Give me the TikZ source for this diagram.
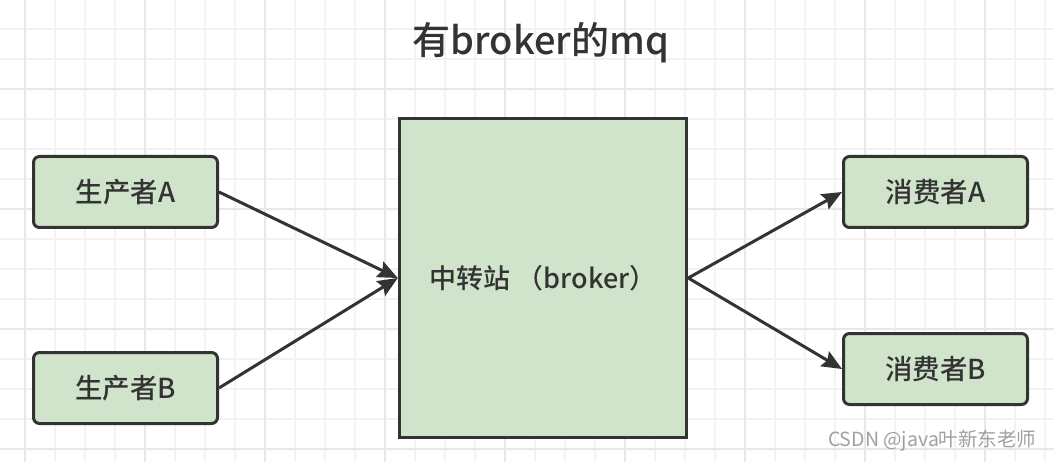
\documentclass[tikz,border=0pt]{standalone}
\usepackage{fontspec}
\setmainfont{Noto Sans CJK SC}
\newfontfamily\medfont{Noto Sans CJK SC Medium}
\usetikzlibrary{arrows.meta}
\definecolor{boxgreen}{RGB}{207,228,203}
\definecolor{edgegray}{RGB}{51,51,51}
\definecolor{gridminor}{RGB}{243,243,243}
\definecolor{gridmajor}{RGB}{232,232,232}
\definecolor{markgray}{RGB}{160,160,160}

\begin{document}
\begin{tikzpicture}[x=1pt, y=-1pt,
    role/.style={draw=edgegray, fill=boxgreen, line width=3pt, rounded corners=6pt,
      minimum width=184pt, minimum height=71pt, text=edgegray,
      font=\medfont\fontsize{27.5}{30}\selectfont},
    hub/.style={draw=edgegray, fill=boxgreen, line width=3.5pt,
      minimum width=287pt, minimum height=319pt, text=edgegray,
      font=\medfont\fontsize{27}{30}\selectfont},
    link/.style={draw=edgegray, line width=3pt,
      -{Stealth[length=20pt, width=17pt, inset=3pt]}}]
        \useasboundingbox (0,0) rectangle (1054,462);
        \fill[white] (0,0) rectangle (1054,462);
        % background grid
        \foreach \gx in {25,55,...,1045}
          \draw[gridminor, line width=1.5pt] (\gx,0) -- (\gx,462);
        \foreach \gy in {29,59,...,449}
          \draw[gridminor, line width=1.5pt] (0,\gy) -- (1054,\gy);
        \foreach \gx in {25,145,...,1045}
          \draw[gridmajor, line width=1.5pt] (\gx,0) -- (\gx,462);
        \foreach \gy in {89,209,...,449}
          \draw[gridmajor, line width=1.5pt] (0,\gy) -- (1054,\gy);

        \node[text=edgegray, font=\medfont\fontsize{38}{42}\selectfont] (title) at (541,43) {有broker的mq};

        \node[role] (prodA) at (125.5,192) {生产者A};
        \node[role] (prodB) at (125.5,388) {生产者B};
        \node[hub]  (broker) at (543,278) {中转站 （broker）};
        \node[role] (consA) at (935.5,192) {消费者A};
        \node[role] (consB) at (935.5,369) {消费者B};

        \draw[link] (prodA.east) -- (broker.west);
        \draw[link] (prodB.east) -- (broker.west);
        \draw[link] (broker.east) -- (consA.west);
        \draw[link] (broker.east) -- (consB.west);

        \node[anchor=east, text=markgray, font=\fontsize{19.5}{22}\selectfont] (mark) at (1040,441) {CSDN @java叶新东老师};
      \end{tikzpicture}
\end{document}
